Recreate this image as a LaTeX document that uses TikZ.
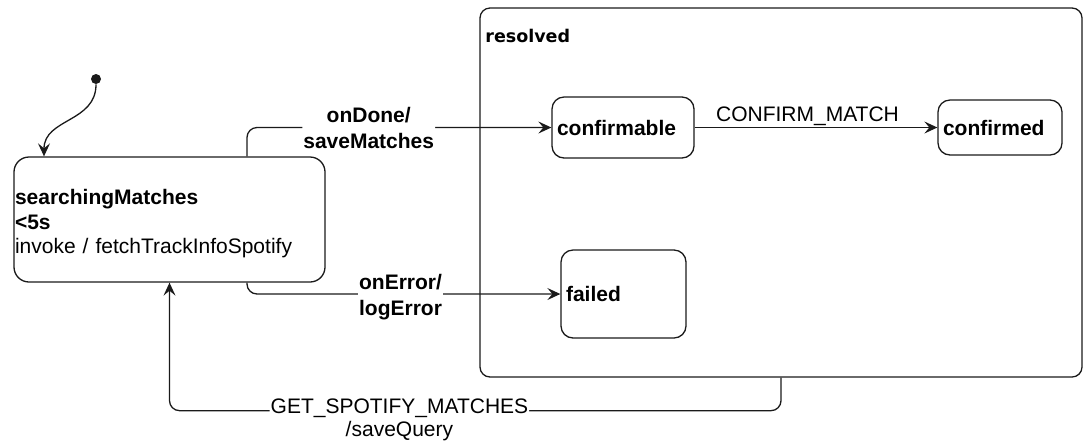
\documentclass[tikz,border=0pt]{standalone}
\usepackage{fontspec}
\setmainfont{Liberation Sans}
\newfontfamily\regionfont{DejaVu Sans}
\usepackage{xcolor}
\definecolor{chart-line}{HTML}{1A1A1A}
\definecolor{chart-text}{HTML}{000000}
\usetikzlibrary{arrows.meta}

\begin{document}
\begin{tikzpicture}[x=0.5pt, y=-0.5pt,
    state/.style={draw=chart-line, line width=0.65pt, rounded corners=6pt, align=left,
        inner xsep=2.5pt, inner ysep=0pt, text=chart-text,
        font=\bfseries\fontsize{10.5}{12.25}\selectfont},
    trans/.style={draw=chart-line, line width=0.65pt, rounded corners=5pt,
        -{Stealth[length=6.5pt, width=6pt, inset=2.5pt]}},
    event/.style={fill=white, align=center, inner xsep=0.5pt, inner ysep=1pt, text=chart-text,
        font=\fontsize{10.5}{11.5}\selectfont},
    eventbold/.style={event, font=\bfseries\fontsize{10.5}{13}\selectfont}]

    \useasboundingbox (0, 0) rectangle (1085, 441);

    % Composite state
    \node[draw=chart-line, line width=0.65pt, rounded corners=5pt, minimum width=301pt,
        minimum height=184.5pt, inner sep=0pt] (resolved) at (781, 192.5) {};
    \node[anchor=base west, inner sep=0pt, text=chart-text,
        font=\regionfont\bfseries\fontsize{8.75}{10}\selectfont] (resolvedname) at (485, 42) {resolved};

    % States
    \node[state, rounded corners=7.5pt, inner xsep=0.5pt, text width=154.5pt, minimum height=62.5pt]
        (searching) at (169.5, 219.5)
        {\rule{0pt}{11.7pt}searchingMatches\\<5s\\\mdseries invoke / fetchTrackInfoSpotify};
    \node[state, text width=66pt, minimum height=30.5pt] (confirmable) at (623, 127.5) {confirmable};
    \node[state, text width=57pt, minimum height=27.5pt] (confirmed) at (1000, 127.5) {confirmed};
    \node[state, text width=57.5pt, minimum height=44pt] (failed) at (623.5, 294) {failed};

    % Start
    \node[circle, fill=chart-line, inner sep=0pt, minimum size=5pt] (init) at (96, 79) {};
    \draw[trans] (init) to[out=-90, in=90, looseness=1.1] ([xshift=-62.75pt]searching.north);

    % Transitions
    \draw[trans] ([xshift=38.75pt]searching.north) |- (confirmable.west)
        node[eventbold, pos=0.7] {onDone/\\saveMatches};
    \draw[trans] (confirmable) -- (confirmed)
        node[pos=0.465, anchor=base, yshift=3pt, inner sep=0pt, text=chart-text,
            font=\fontsize{10.5}{12}\selectfont] {CONFIRM\_MATCH};
    \draw[trans] ([xshift=38.75pt]searching.south) |- (failed.west)
        node[eventbold, pos=0.745, yshift=-1.75pt] {onError/\\logError};
    \draw[trans] (resolved.south) -- ++(0, 33) -| (searching.south)
        node[event, pos=0.312, yshift=-4.75pt] {GET\_SPOTIFY\_MATCHES\\/saveQuery};

\end{tikzpicture}
\end{document}
